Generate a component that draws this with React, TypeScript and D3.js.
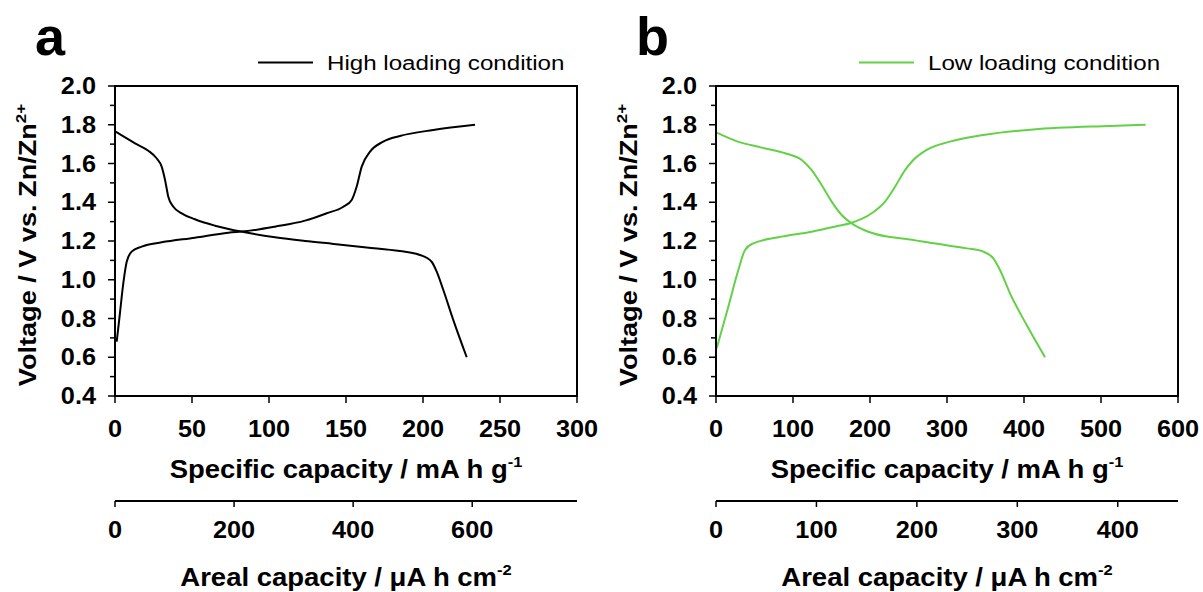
import React from "react";
import * as d3 from "d3";

// panel a: high loading
const highDischargeCap = [0.4, 13, 21.6, 27, 30.3, 32.5, 34.6, 37.9, 43.3, 51.9, 64.9, 84.4, 103.9, 123.4, 141.8, 163.4, 185, 198, 205.6, 208.9, 213.2, 219.7, 228.4];
const highDischargeV = [1.764, 1.704, 1.666, 1.627, 1.584, 1.515, 1.429, 1.377, 1.343, 1.312, 1.279, 1.245, 1.219, 1.2, 1.185, 1.167, 1.148, 1.128, 1.093, 1.042, 0.947, 0.792, 0.6];
const highChargeCap = [1.1, 3.2, 5.4, 7.6, 10.8, 17.3, 30.3, 51.9, 73.6, 84.4, 103.9, 123.4, 137.4, 148.3, 153.7, 156.9, 160.2, 165.6, 174.2, 185, 206.7, 233.8];
const highChargeV = [0.68, 0.827, 0.982, 1.093, 1.145, 1.171, 1.193, 1.217, 1.243, 1.25, 1.274, 1.305, 1.343, 1.377, 1.412, 1.48, 1.584, 1.661, 1.713, 1.742, 1.773, 1.8];

// panel b: low loading
const lowDischargeCap = [0.9, 24.7, 59.3, 89.6, 111.3, 124.2, 137.2, 150.2, 163.2, 176.2, 197.8, 223.8, 245, 282.3, 325.6, 347.2, 360.2, 368.8, 381.8, 403.5, 427.3];
const lowDischargeV = [1.759, 1.718, 1.682, 1.653, 1.618, 1.566, 1.489, 1.403, 1.334, 1.291, 1.248, 1.222, 1.212, 1.188, 1.162, 1.145, 1.11, 1.05, 0.93, 0.766, 0.6];
const lowChargeCap = [0.9, 16, 29, 37.7, 48.4, 80.9, 124.2, 154.5, 176.2, 202.2, 219.5, 232.5, 245.5, 256.3, 273.6, 303.9, 347.2, 412.1, 511.7, 558];
const lowChargeV = [0.646, 0.861, 1.05, 1.154, 1.188, 1.219, 1.248, 1.274, 1.294, 1.343, 1.403, 1.48, 1.566, 1.618, 1.67, 1.713, 1.747, 1.776, 1.794, 1.8];

const voltageTicks = [0.4, 0.6, 0.8, 1.0, 1.2, 1.4, 1.6, 1.8, 2.0];
const voltageMinorTicks = [0.5, 0.7, 0.9, 1.1, 1.3, 1.5, 1.7, 1.9];
const highSpecificTicks = [0, 50, 100, 150, 200, 250, 300];
const highArealTicks = [0, 200, 400, 600];
const lowSpecificTicks = [0, 100, 200, 300, 400, 500, 600];
const lowArealTicks = [0, 100, 200, 300, 400];

const FONT = '"Liberation Sans", Arial, Helvetica, sans-serif';
const SX = 1.1; // the source text is a bit wider than Arial

const top = 86;
const bottom = 396;
const plotW = 462;
const arealY = 501;

const zip = (xs, ys) => xs.map((x, i) => [x, ys[i]]);

function T({ x, y, anchor = "middle", size = 23, weight = "bold", children, sx = SX }) {
  return (
    <g transform={`translate(${x},${y}) scale(${sx},1)`}>
      <text textAnchor={anchor} fontSize={size} fontWeight={weight} fontFamily={FONT} fill="#000">
        {children}
      </text>
    </g>
  );
}

function Panel({ left, letter, color, label, discharge, charge, xMax, xTicks, arealMax, arealTicks }) {
  const x = d3.scaleLinear().domain([0, xMax]).range([left, left + plotW]);
  const y = d3.scaleLinear().domain([0.4, 2.0]).range([bottom, top]);
  const xa = d3.scaleLinear().domain([0, arealMax]).range([left, left + plotW]);
  const line = d3
    .line()
    .x((d) => x(d[0]))
    .y((d) => y(d[1]))
    .curve(d3.curveMonotoneX);
  const right = left + plotW;
  const mid = left + plotW / 2;

  return (
    <g>
      <text x={left - 80} y={55} fontSize={54} fontWeight="bold" fontFamily={FONT}>
        {letter}
      </text>

      {/* legend */}
      <line x1={left + 143} x2={left + 198} y1={62.5} y2={62.5} stroke={color} strokeWidth={2} />
      <T x={left + 212} y={70} anchor="start" size={21} weight="normal" sx={1.15}>
        {label}
      </T>

      {/* curves */}
      <path d={line(discharge)} fill="none" stroke={color} strokeWidth={2} />
      <path d={line(charge)} fill="none" stroke={color} strokeWidth={2} />

      {/* frame */}
      <rect x={left} y={top} width={plotW} height={bottom - top} fill="none" stroke="#000" strokeWidth={2} />

      {/* y axis */}
      {voltageTicks.map((v) => (
        <g key={v}>
          <line x1={left - 7} x2={left} y1={y(v)} y2={y(v)} stroke="#000" strokeWidth={1.5} />
          <T x={left - 19} y={y(v) + 8} anchor="end">
            {v.toFixed(1)}
          </T>
        </g>
      ))}
      {voltageMinorTicks.map((v) => (
        <line key={v} x1={left - 5} x2={left} y1={y(v)} y2={y(v)} stroke="#000" strokeWidth={1.5} />
      ))}
      <g transform={`translate(${left - 79},${(top + bottom) / 2 + 4}) rotate(-90) scale(1.13,1)`}>
        <text textAnchor="middle" fontSize={24} fontWeight="bold" fontFamily={FONT}>
          Voltage / V vs. Zn/Zn
          <tspan fontSize={15} dy={-10}>2+</tspan>
        </text>
      </g>

      {/* specific capacity axis */}
      {xTicks.map((t) => (
        <g key={t}>
          <line x1={x(t)} x2={x(t)} y1={bottom} y2={bottom + 7} stroke="#000" strokeWidth={1.5} />
          <T x={x(t)} y={437}>{t}</T>
        </g>
      ))}
      <T x={mid} y={478} size={25} sx={1.1}>
        Specific capacity / mA h g
        <tspan fontSize={15} dy={-11}>-1</tspan>
      </T>

      {/* areal capacity axis */}
      <line x1={left} x2={right} y1={arealY} y2={arealY} stroke="#000" strokeWidth={2} />
      {arealTicks.map((t) => (
        <g key={t}>
          <line x1={xa(t)} x2={xa(t)} y1={arealY} y2={arealY + 6} stroke="#000" strokeWidth={1.5} />
          <T x={xa(t)} y={538}>{t}</T>
        </g>
      ))}
      <T x={mid} y={586} size={25} sx={1.1}>
        Areal capacity / μA h cm
        <tspan fontSize={15} dy={-11}>-2</tspan>
      </T>
    </g>
  );
}

export default function App() {
  return (
    <svg
      width={1203}
      height={592}
      style={{ position: "absolute", left: 0, top: 0, background: "#fff" }}
    >
      <rect width={1203} height={592} fill="#fff" />
      <Panel
        left={115}
        letter="a"
        color="#000"
        label="High loading condition"
        discharge={zip(highDischargeCap, highDischargeV)}
        charge={zip(highChargeCap, highChargeV)}
        xMax={300}
        xTicks={highSpecificTicks}
        arealMax={776}
        arealTicks={highArealTicks}
      />
      <Panel
        left={716}
        letter="b"
        color="#63d146"
        label="Low loading condition"
        discharge={zip(lowDischargeCap, lowDischargeV)}
        charge={zip(lowChargeCap, lowChargeV)}
        xMax={600}
        xTicks={lowSpecificTicks}
        arealMax={460}
        arealTicks={lowArealTicks}
      />
    </svg>
  );
}
